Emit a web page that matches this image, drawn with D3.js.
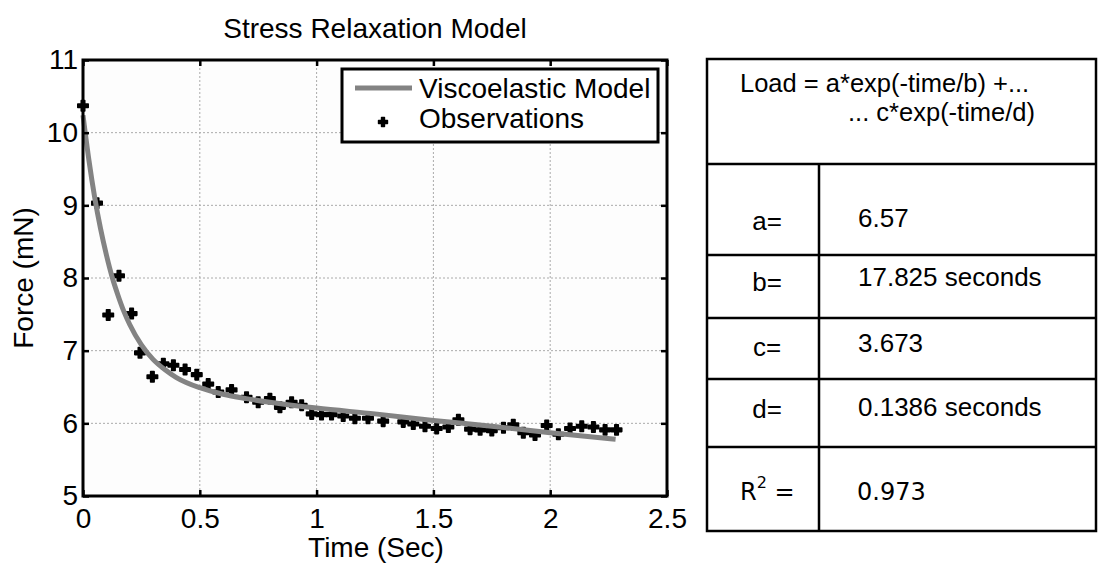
<!DOCTYPE html>
<html>
<head>
<meta charset="utf-8">
<script src="https://cdn.jsdelivr.net/npm/d3@7/dist/d3.min.js"></script>
<style>
  html, body { margin: 0; padding: 0; background: #ffffff; }
  svg { display: block; font-family: "Liberation Sans", Arial, sans-serif; }
</style>
</head>
<body>
<svg id="chart" width="1102" height="571"></svg>
<script>
// Observed force readings during the relaxation test
const obsTime = [0.000, 0.060, 0.108, 0.154, 0.208, 0.244, 0.297, 0.344, 0.387, 0.437,
  0.487, 0.536, 0.579, 0.636, 0.700, 0.750, 0.800, 0.843, 0.893, 0.936,
  0.979, 1.021, 1.064, 1.114, 1.164, 1.220, 1.285, 1.371, 1.414, 1.464,
  1.514, 1.564, 1.607, 1.657, 1.700, 1.750, 1.800, 1.842, 1.885, 1.935,
  1.985, 2.035, 2.085, 2.135, 2.185, 2.235, 2.284];
const obsForce = [10.37, 9.03, 7.49, 8.03, 7.51, 6.97, 6.64, 6.82, 6.80, 6.74,
  6.67, 6.54, 6.43, 6.46, 6.36, 6.29, 6.34, 6.22, 6.29, 6.25,
  6.13, 6.12, 6.12, 6.10, 6.07, 6.07, 6.03, 6.02, 5.99, 5.96,
  5.93, 5.95, 6.05, 5.92, 5.91, 5.90, 5.94, 5.98, 5.87, 5.84,
  5.97, 5.85, 5.93, 5.96, 5.95, 5.91, 5.91];

// Fitted viscoelastic model curve
const modelTime = [0, 0.025, 0.05, 0.075, 0.1, 0.125, 0.15, 0.175, 0.2, 0.25, 0.3, 0.35,
  0.4, 0.5, 0.6, 0.7, 0.8, 1.0, 1.25, 1.5, 1.75, 2.0, 2.28];
const modelForce = [10.24, 9.63, 9.11, 8.68, 8.32, 8.01, 7.76, 7.54, 7.36, 7.08, 6.88, 6.74,
  6.63, 6.49, 6.40, 6.34, 6.29, 6.21, 6.13, 6.04, 5.96, 5.87, 5.78];

// Axis ticks
const xTicks = [0, 0.5, 1, 1.5, 2, 2.5];
const xTickLabels = ["0", "0.5", "1", "1.5", "2", "2.5"];
const yTicks = [5, 6, 7, 8, 9, 10, 11];
const yTickLabels = ["5", "6", "7", "8", "9", "10", "11"];

// Fit parameter table
const formulaLines = ["Load = a*exp(-time/b) +...", "... c*exp(-time/d)"];
const paramNames = ["a=", "b=", "c=", "d="];
const paramValues = ["6.57", "17.825 seconds", "3.673", "0.1386 seconds"];
const rSquared = "0.973";

const svg = d3.select("#chart");

const plot = { left: 83, right: 667, top: 60, bottom: 496 };
const x = d3.scaleLinear().domain([0, 2.5]).range([plot.left, plot.right]);
const y = d3.scaleLinear().domain([5, 11]).range([plot.bottom, plot.top]);

// Plot background
svg.append("rect")
  .attr("x", plot.left).attr("y", plot.top)
  .attr("width", plot.right - plot.left).attr("height", plot.bottom - plot.top)
  .attr("fill", "#fdfdfd");

// Dotted grid
const grid = svg.append("g").attr("stroke", "#aaaaaa").attr("stroke-width", 1)
  .attr("stroke-dasharray", "2,2");
grid.selectAll("line.gx").data(xTicks.slice(1, -1)).join("line")
  .attr("x1", d => x(d)).attr("x2", d => x(d))
  .attr("y1", plot.top).attr("y2", plot.bottom);
grid.selectAll("line.gy").data(yTicks.slice(1, -1)).join("line")
  .attr("x1", plot.left).attr("x2", plot.right)
  .attr("y1", d => y(d)).attr("y2", d => y(d));

// Observation markers (heavy plus signs)
const obs = obsTime.map((t, i) => ({ t, f: obsForce[i] }));
const cross = d3.symbol().type(d3.symbolCross).size(60);
svg.append("g").selectAll("path").data(obs).join("path")
  .attr("d", cross)
  .attr("transform", d => `translate(${x(d.t)},${y(d.f)})`)
  .attr("fill", "#000").attr("stroke", "#000").attr("stroke-width", 1.6)
  .attr("stroke-linejoin", "round");

// Model curve
const model = modelTime.map((t, i) => ({ t, f: modelForce[i] }));
svg.append("path")
  .datum(model)
  .attr("d", d3.line().x(d => x(d.t)).y(d => y(d.f)).curve(d3.curveMonotoneX))
  .attr("fill", "none")
  .attr("stroke", "#838383")
  .attr("stroke-width", 5)
  .attr("stroke-linecap", "butt");

// Axes with inward ticks
const tickFont = 28;
const xAxis = svg.append("g").attr("transform", `translate(0,${plot.bottom})`)
  .call(d3.axisBottom(x).tickValues(xTicks).tickFormat((d, i) => xTickLabels[i])
    .tickSizeInner(-6).tickSizeOuter(0).tickPadding(12));
const yAxis = svg.append("g").attr("transform", `translate(${plot.left},0)`)
  .call(d3.axisLeft(y).tickValues(yTicks).tickFormat((d, i) => yTickLabels[i])
    .tickSizeInner(-6).tickSizeOuter(0).tickPadding(5));
const xTop = svg.append("g").attr("transform", `translate(0,${plot.top})`)
  .call(d3.axisTop(x).tickValues(xTicks).tickFormat("").tickSizeInner(-6).tickSizeOuter(0));
const yRight = svg.append("g").attr("transform", `translate(${plot.right},0)`)
  .call(d3.axisRight(y).tickValues(yTicks).tickFormat("").tickSizeInner(-6).tickSizeOuter(0));
[xAxis, yAxis, xTop, yRight].forEach(g => {
  g.select(".domain").remove();
  g.selectAll(".tick line").attr("stroke", "#000").attr("stroke-width", 2.5);
  g.selectAll(".tick text").attr("font-size", tickFont)
    .attr("font-family", "Liberation Sans, Arial, sans-serif").attr("fill", "#000");
});

// Axes frame
svg.append("rect")
  .attr("x", plot.left).attr("y", plot.top)
  .attr("width", plot.right - plot.left).attr("height", plot.bottom - plot.top)
  .attr("fill", "none").attr("stroke", "#000").attr("stroke-width", 3);

// Title and axis labels
svg.append("text").attr("x", 375).attr("y", 38).attr("text-anchor", "middle")
  .attr("font-size", 28).text("Stress Relaxation Model");
svg.append("text").attr("x", 376).attr("y", 557).attr("text-anchor", "middle")
  .attr("font-size", 28).text("Time (Sec)");
svg.append("text").attr("transform", "translate(33,278) rotate(-90)")
  .attr("text-anchor", "middle").attr("font-size", 28).text("Force (mN)");

// Legend
const legend = svg.append("g");
legend.append("rect").attr("x", 342).attr("y", 69).attr("width", 316).attr("height", 73)
  .attr("fill", "#fff").attr("stroke", "#000").attr("stroke-width", 3);
legend.append("line").attr("x1", 355).attr("x2", 412).attr("y1", 88).attr("y2", 88)
  .attr("stroke", "#838383").attr("stroke-width", 5);
legend.append("text").attr("x", 419).attr("y", 98).attr("font-size", 28).text("Viscoelastic Model");
legend.append("path").attr("d", d3.symbol().type(d3.symbolCross).size(45))
  .attr("transform", "translate(383,122)").attr("fill", "#000")
  .attr("stroke", "#000").attr("stroke-width", 1.4).attr("stroke-linejoin", "round");
legend.append("text").attr("x", 419).attr("y", 128).attr("font-size", 28).text("Observations");

// Parameter table
const tbl = { left: 707, mid: 819, right: 1096, top: 59, head: 164, bottom: 531 };
const rowLines = [255, 318, 379, 447];
const tg = svg.append("g").attr("stroke", "#000").attr("stroke-width", 2.5);
tg.append("rect").attr("x", tbl.left).attr("y", tbl.top)
  .attr("width", tbl.right - tbl.left).attr("height", tbl.bottom - tbl.top).attr("fill", "none");
tg.append("line").attr("x1", tbl.left).attr("x2", tbl.right).attr("y1", tbl.head).attr("y2", tbl.head);
tg.selectAll("line.row").data(rowLines).join("line")
  .attr("x1", tbl.left).attr("x2", tbl.right).attr("y1", d => d).attr("y2", d => d);
tg.append("line").attr("x1", tbl.mid).attr("x2", tbl.mid).attr("y1", tbl.head).attr("y2", tbl.bottom);

// Model formula written over two lines
const formula = svg.append("text").attr("font-size", 25.5);
formula.append("tspan").attr("x", 740).attr("y", 92).text(formulaLines[0]);
formula.append("tspan").attr("x", 848).attr("y", 121).text(formulaLines[1]);

const nameBaselines = [230, 291, 356, 418];
const valueBaselines = [227, 286, 352, 416];
svg.append("g").selectAll("text").data(paramNames).join("text")
  .attr("x", 767).attr("y", (d, i) => nameBaselines[i]).attr("text-anchor", "middle")
  .attr("font-size", 26).text(d => d);
svg.append("g").selectAll("text").data(paramValues).join("text")
  .attr("x", 858).attr("y", (d, i) => valueBaselines[i])
  .attr("font-size", 26).text(d => d);

const r2 = svg.append("text").attr("x", 740).attr("y", 500)
  .attr("font-family", "DejaVu Sans, sans-serif").attr("font-size", 24);
r2.append("tspan").text("R");
r2.append("tspan").attr("dy", -12).attr("font-size", 16).text("2");
r2.append("tspan").attr("dy", 12).text(" =");
svg.append("text").attr("x", 857).attr("y", 500)
  .attr("font-family", "DejaVu Sans, sans-serif").attr("font-size", 24).text(rSquared);
</script>
</body>
</html>
